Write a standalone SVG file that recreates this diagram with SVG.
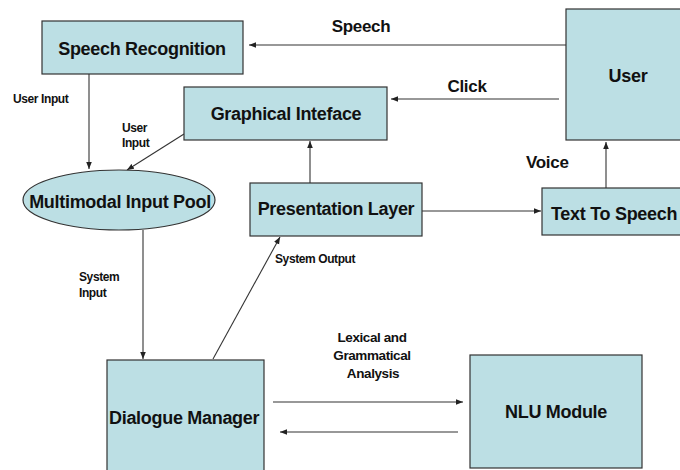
<svg xmlns="http://www.w3.org/2000/svg" width="680" height="470" viewBox="0 0 680 470">
<defs>
<style>
.box{fill:#bcdfe4;stroke:#333;stroke-width:1.2}
.t{font-family:"Liberation Sans",Arial,sans-serif;font-weight:bold;font-size:18px;fill:#111;letter-spacing:-0.3px}
.s{font-family:"Liberation Sans",Arial,sans-serif;font-weight:bold;font-size:12px;fill:#111;letter-spacing:-0.4px}
.l{font-family:"Liberation Sans",Arial,sans-serif;font-weight:bold;font-size:17px;fill:#111;letter-spacing:-0.3px}
.m{text-anchor:middle}
.c{fill:none;stroke:#333;stroke-width:1.1;marker-end:url(#ah)}
</style>
<marker id="ah" viewBox="0 0 10 10" refX="10" refY="5" markerWidth="7" markerHeight="7" markerUnits="userSpaceOnUse" orient="auto">
<path d="M0,1 L10,5 L0,9 z" fill="#222"/>
</marker>
</defs>
<rect width="680" height="470" fill="#fff"/>
<g id="connectors">
<line class="c" x1="566" y1="45" x2="249" y2="45"/>
<line class="c" x1="559" y1="99" x2="391" y2="99"/>
<line class="c" x1="606" y1="188" x2="606" y2="142"/>
<line class="c" x1="422" y1="211" x2="541" y2="211"/>
<line class="c" x1="310" y1="183" x2="310" y2="141"/>
<line class="c" x1="89" y1="74" x2="89" y2="169"/>
<line class="c" x1="184" y1="134" x2="127" y2="170"/>
<line class="c" x1="143" y1="230" x2="143" y2="359"/>
<line class="c" x1="213" y1="359" x2="280" y2="237"/>
<line class="c" x1="273" y1="402" x2="463" y2="402"/>
<line class="c" x1="458" y1="432" x2="280" y2="432"/>
<text class="l m" x="361" y="32">Speech</text>
<text class="l m" x="467" y="92">Click</text>
<text class="l" x="526" y="168">Voice</text>
<text class="s" x="13" y="103">User Input</text>
<text class="s" x="122" y="132">User</text>
<text class="s" x="122" y="147">Input</text>
<text class="s" x="79" y="281">System</text>
<text class="s" x="79" y="297">Input</text>
<text class="s" x="275" y="263">System Output</text>
<text class="s m" style="font-size:13.5px" x="372" y="342">Lexical and</text>
<text class="s m" style="font-size:13.5px" x="372" y="360">Grammatical</text>
<text class="s m" style="font-size:13.5px" x="373" y="378">Analysis</text>
</g>
<g id="speech-recognition">
<rect class="box" x="42" y="21" width="201" height="53"/>
<text class="t m" x="142" y="55">Speech Recognition</text>
</g>
<g id="graphical-interface">
<rect class="box" x="184" y="87" width="203" height="53"/>
<text class="t m" x="286" y="120">Graphical Inteface</text>
</g>
<g id="user">
<rect class="box" x="566" y="9" width="120" height="131"/>
<text class="t m" x="628" y="82">User</text>
</g>
<g id="multimodal-input-pool">
<ellipse class="box" cx="119" cy="200" rx="96" ry="30"/>
<text class="t m" x="120" y="208">Multimodal Input Pool</text>
</g>
<g id="presentation-layer">
<rect class="box" x="250" y="183" width="172" height="53"/>
<text class="t m" x="336" y="215">Presentation Layer</text>
</g>
<g id="text-to-speech">
<rect class="box" x="542" y="188" width="145" height="47"/>
<text class="t" x="551" y="220">Text To Speech</text>
</g>
<g id="dialogue-manager">
<rect class="box" x="107" y="360" width="157" height="115"/>
<text class="t" x="109" y="424">Dialogue Manager</text>
</g>
<g id="nlu-module">
<rect class="box" x="470" y="355" width="172" height="113"/>
<text class="t m" x="556" y="418">NLU Module</text>
</g>
</svg>
